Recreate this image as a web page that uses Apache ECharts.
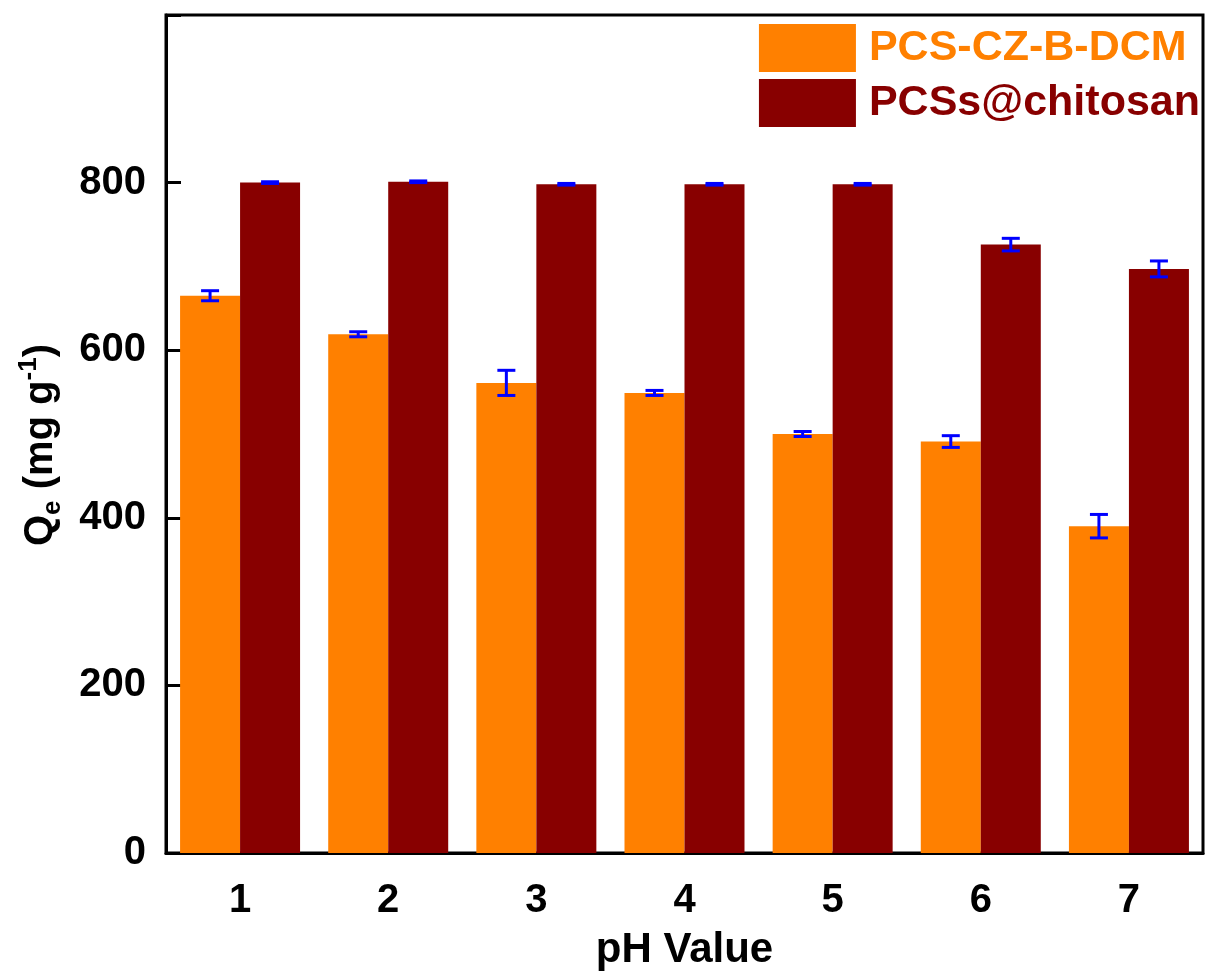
<!DOCTYPE html>
<html>
<head>
<meta charset="utf-8">
<script src="https://cdn.jsdelivr.net/npm/echarts@6/dist/echarts.min.js"></script>
<style>
  html, body { margin: 0; padding: 0; background: #fff; }
  #box { width: 1206px; height: 976px; }
</style>
</head>
<body>
<div id="box"></div>
<script>
var phValues = ['1', '2', '3', '4', '5', '6', '7'];
var czValues = [665, 619, 561, 549, 500, 491, 390];
var czErrors = [6, 3, 15, 3, 3, 7, 14];
var chValues = [800, 801, 798, 798, 798, 726, 697];
var chErrors = [1, 1, 1, 1, 1, 7.5, 9.5];
var yTicks = [0, 200, 400, 600, 800];

var font = '"Liberation Sans", Arial, sans-serif';
var catGap = 0.19;

function errData(vals, errs) {
    return vals.map(function (v, i) { return [i, v - errs[i], v + errs[i]]; });
}

// side: -1 for left bar of the pair, +1 for right bar
function errorBar(side) {
    return function (params, api) {
        var band = api.size([1, 0])[0];
        var barW = band * (1 - catGap) / 2;
        var lo = api.coord([api.value(0), api.value(1)]);
        var hi = api.coord([api.value(0), api.value(2)]);
        var x = lo[0] + side * barW / 2;
        var cap = 9;
        var style = { stroke: '#0000FF', lineWidth: 3 };
        return {
            type: 'group',
            children: [
                { type: 'line', shape: { x1: x, y1: lo[1], x2: x, y2: hi[1] }, style: style },
                { type: 'line', shape: { x1: x - cap, y1: lo[1], x2: x + cap, y2: lo[1] }, style: style },
                { type: 'line', shape: { x1: x - cap, y1: hi[1], x2: x + cap, y2: hi[1] }, style: style }
            ]
        };
    };
}

var myChart = echarts.init(document.getElementById('box'));
var option = {
    animation: false,
    grid: {
        left: 166, right: 3, top: 15, bottom: 123,
        show: true, borderColor: '#000', borderWidth: 3
    },
    legend: {
        orient: 'vertical',
        right: 6,
        top: 24,
        padding: 0,
        icon: 'rect',
        itemWidth: 97,
        itemHeight: 48,
        itemGap: 7,
        selectedMode: false,
        textStyle: { fontFamily: font, fontWeight: 'bold', fontSize: 43, padding: [0, 0, 0, 8] },
        data: [
            { name: 'PCS-CZ-B-DCM', textStyle: { color: '#FF8000' } },
            { name: 'PCSs@chitosan', textStyle: { color: '#880000' } }
        ]
    },
    xAxis: {
        type: 'category',
        data: phValues,
        name: 'pH Value',
        nameLocation: 'middle',
        nameGap: 76,
        nameTextStyle: { fontFamily: font, fontWeight: 'bold', fontSize: 42, color: '#000' },
        axisLine: { lineStyle: { color: '#000', width: 3 } },
        axisTick: { alignWithLabel: true, length: 15, lineStyle: { color: '#000', width: 3 } },
        axisLabel: { margin: 28, fontFamily: font, fontWeight: 'bold', fontSize: 40, color: '#000' }
    },
    yAxis: {
        type: 'value',
        min: 0,
        max: 1000,
        interval: 200,
        name: '{b|Q}{sub|e}{b| (mg g}{sup|-1}{b|)}',
        nameLocation: 'middle',
        nameGap: 100,
        nameTextStyle: {
            padding: [0, 22, 0, 0],
            rich: {
                b: { fontFamily: font, fontWeight: 'bold', fontSize: 40, color: '#000', lineHeight: 50 },
                sub: { fontFamily: font, fontWeight: 'bold', fontSize: 26, color: '#000', verticalAlign: 'bottom', lineHeight: 50, padding: [18, 0, 0, 0] },
                sup: { fontFamily: font, fontWeight: 'bold', fontSize: 26, color: '#000', verticalAlign: 'top', lineHeight: 50, padding: [0, 0, 18, 0] }
            }
        },
        splitLine: { show: false },
        axisLine: { show: true, lineStyle: { color: '#000', width: 3 } },
        axisTick: { show: true, inside: true, length: 15, lineStyle: { color: '#000', width: 3 } },
        axisLabel: {
            margin: 20,
            fontFamily: font, fontWeight: 'bold', fontSize: 40, color: '#000',
            formatter: function (v) { return yTicks.indexOf(v) >= 0 ? String(v) : ''; }
        }
    },
    series: [
        {
            name: 'PCS-CZ-B-DCM',
            type: 'bar',
            data: czValues,
            barGap: '0%',
            barCategoryGap: (catGap * 100) + '%',
            itemStyle: { color: '#FF8000' }
        },
        {
            name: 'PCSs@chitosan',
            type: 'bar',
            data: chValues,
            barGap: '0%',
            barCategoryGap: (catGap * 100) + '%',
            itemStyle: { color: '#880000' }
        },
        {
            type: 'custom',
            renderItem: errorBar(-1),
            data: errData(czValues, czErrors),
            z: 10,
            silent: true
        },
        {
            type: 'custom',
            renderItem: errorBar(1),
            data: errData(chValues, chErrors),
            z: 10,
            silent: true
        }
    ]
};
myChart.setOption(option);
</script>
</body>
</html>
